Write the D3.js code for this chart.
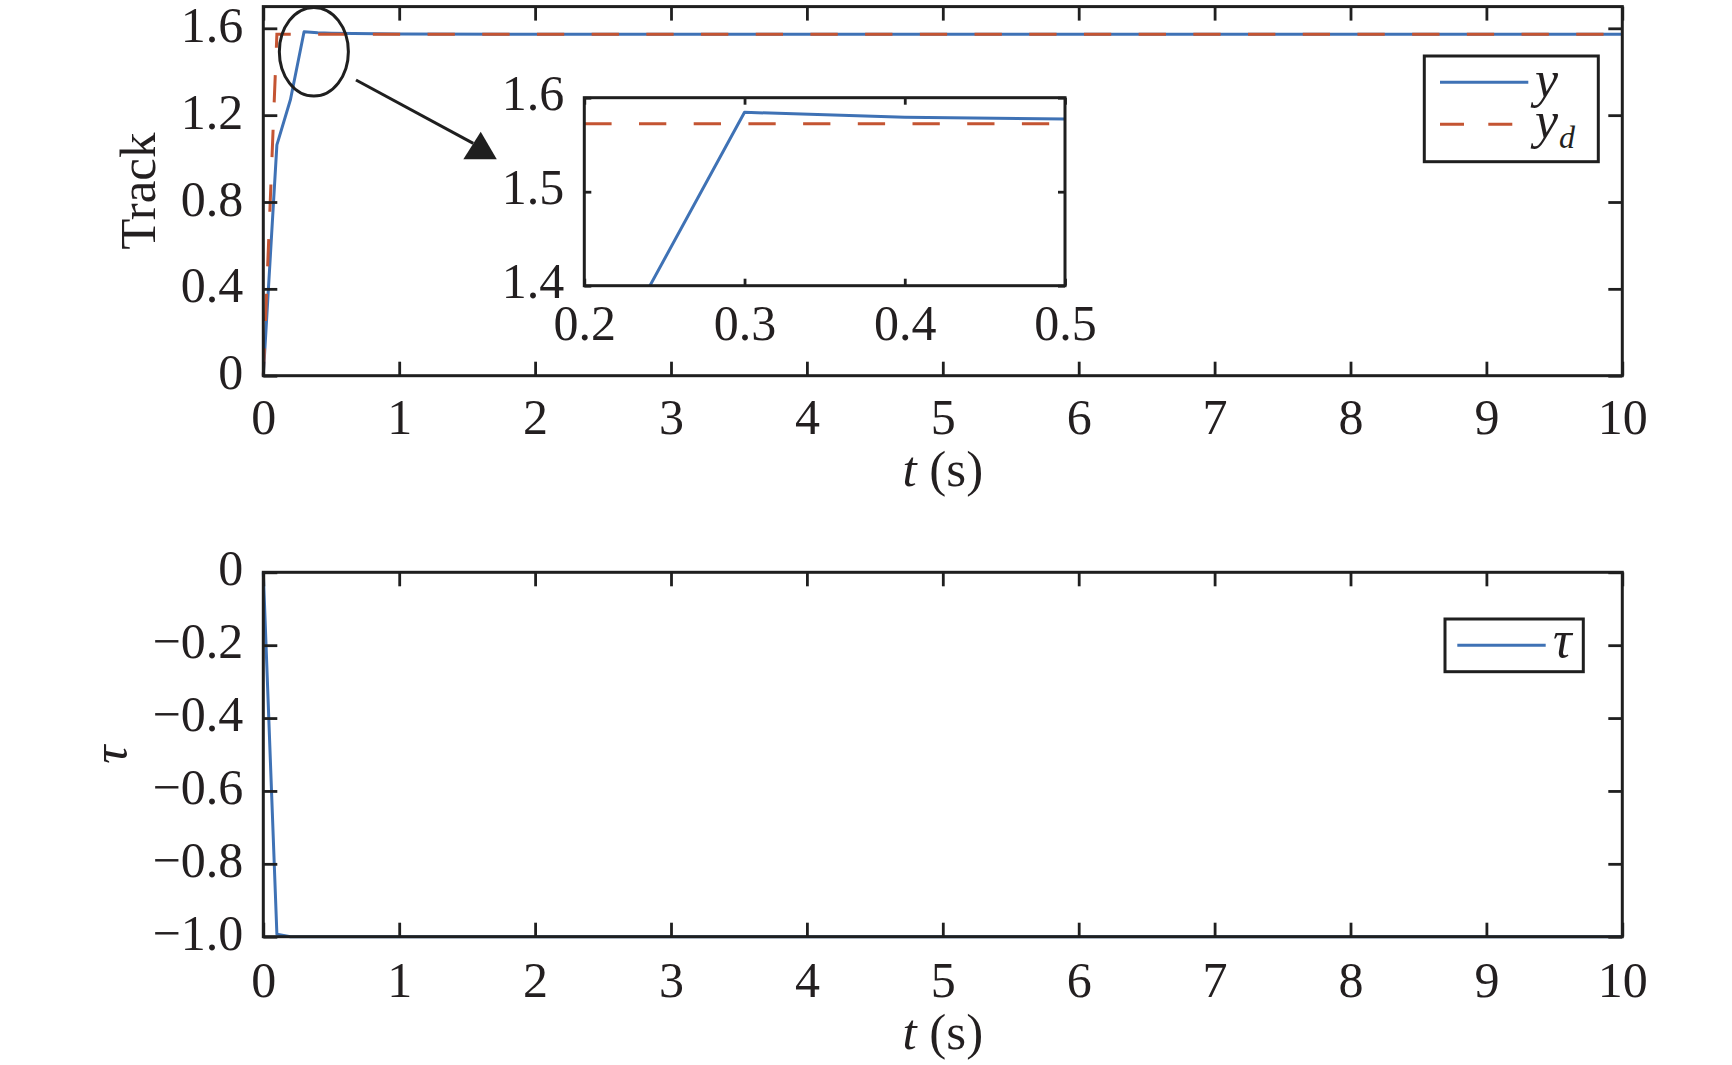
<!DOCTYPE html>
<html>
<head>
<meta charset="utf-8">
<script src="https://cdn.jsdelivr.net/npm/d3@7"></script>
<style>
  html, body { margin: 0; padding: 0; background: #fff; }
  svg { display: block; }
  text { font-family: "Liberation Serif", "Times New Roman", serif; fill: #231f20; }
</style>
</head>
<body>
<svg id="chart" width="1732" height="1065"></svg>
<script>
// ---------------- data ----------------
const tY      = [0, 0.1, 0.2, 0.3, 0.4, 0.5, 1, 2, 10];
const yVals   = [0, 1.063, 1.272, 1.5845, 1.5791, 1.5773, 1.5735, 1.5723, 1.5723];
const tYd     = [0, 0.1, 10];
const ydVals  = [0, 1.5723, 1.5723];
const tTau    = [0, 0.1, 0.2, 10];
const tauVals = [0, -0.993, -1.0, -1.0];

const xTicks       = [0,1,2,3,4,5,6,7,8,9,10];
const xTickLabels  = ["0","1","2","3","4","5","6","7","8","9","10"];
const topYTicks    = [0, 0.4, 0.8, 1.2, 1.6];
const topYLabels   = ["0","0.4","0.8","1.2","1.6"];
const botYTicks    = [0, -0.2, -0.4, -0.6, -0.8, -1.0];
const botYLabels   = ["0","\u22120.2","\u22120.4","\u22120.6","\u22120.8","\u22121.0"];
const insXTicks    = [0.2, 0.3, 0.4, 0.5];
const insXLabels   = ["0.2","0.3","0.4","0.5"];
const insYTicks    = [1.4, 1.5, 1.6];
const insYLabels   = ["1.4","1.5","1.6"];

// annotation (in data units of the top panel)
const ellipseCenter = [0.372, 1.492];
const ellipseRadii  = [0.254, 0.204];
const arrowFrom     = [0.682, 1.362];
const arrowTo       = [1.545, 1.070];
const arrowHead     = [[1.472, 0.997], [1.718, 0.997], [1.600, 1.124]];

// ---------------- style ----------------
const BLUE = "#3f72b5", RED = "#c45432", INK = "#1f1f1f";
const TICK_FONT = 50, LABEL_FONT = 51, LW = 3.0;

const svg = d3.select("#chart");

// ---------------- scales ----------------
const L = 263.3, R = 1622.3;
const x = d3.scaleLinear().domain([0, 10]).range([L, R]);
const yTop = d3.scaleLinear().domain([0, 1.7]).range([375.7, 6.6]);
const yBot = d3.scaleLinear().domain([-1, 0]).range([936.7, 572.3]);
const xIns = d3.scaleLinear().domain([0.2, 0.5]).range([584.3, 1065]);
const yIns = d3.scaleLinear().domain([1.4, 1.6]).range([285.7, 97.7]);

function drawAxes(g, xs, ys, xt, xl, yt, yl, tickLen, xLabOff, yLabBase, fontSize) {
  const [x0, x1] = xs.range();
  const [y0, y1] = ys.range(); // y0 bottom, y1 top
  const ab = g.append("g").attr("transform", `translate(0,${y0})`)
    .call(d3.axisBottom(xs).tickValues(xt).tickSize(-tickLen).tickFormat((d,i)=>xl[i]));
  g.append("g").attr("transform", `translate(0,${y1})`)
    .call(d3.axisTop(xs).tickValues(xt).tickSize(-tickLen).tickFormat(""));
  const al = g.append("g").attr("transform", `translate(${x0},0)`)
    .call(d3.axisLeft(ys).tickValues(yt).tickSize(-tickLen).tickFormat((d,i)=>yl[i]));
  g.append("g").attr("transform", `translate(${x1},0)`)
    .call(d3.axisRight(ys).tickValues(yt).tickSize(-tickLen).tickFormat(""));
  g.selectAll(".domain").remove();
  g.selectAll(".tick line").attr("stroke", INK).attr("stroke-width", 2.8);
  g.selectAll(".tick text").style("font-family", '"Liberation Serif", serif')
    .style("font-size", fontSize + "px").attr("fill", "#231f20");
  ab.selectAll(".tick text").attr("y", xLabOff).attr("dy", null);
  al.selectAll(".tick text").attr("x", -20).attr("dy", null).attr("y", yLabBase).attr("text-anchor", "end");
  g.append("rect").attr("x", x0).attr("y", y1).attr("width", x1 - x0).attr("height", y0 - y1)
    .attr("fill", "none").attr("stroke", INK).attr("stroke-width", 3);
}

// ---------------- top panel ----------------
const gTop = svg.append("g");
const lineTop = d3.line().x(d => x(d[0])).y(d => yTop(d[1]));
gTop.append("path").datum(tY.map((t,i)=>[t, yVals[i]]))
  .attr("d", lineTop).attr("fill","none").attr("stroke", BLUE).attr("stroke-width", LW)
  .attr("stroke-linejoin","round");
gTop.append("path").datum(tYd.map((t,i)=>[t, ydVals[i]]))
  .attr("d", lineTop).attr("fill","none").attr("stroke", RED).attr("stroke-width", LW)
  .attr("stroke-dasharray", "27.3,27.4");
drawAxes(gTop, x, yTop, xTicks, xTickLabels, topYTicks, topYLabels, 14, 58.5, 13, TICK_FONT);

function tsLabel(g, cx, baseline) {
  const t = g.append("text").attr("x", cx).attr("y", baseline).attr("text-anchor","middle")
    .style("font-size", LABEL_FONT + "px");
  t.append("tspan").style("font-style","italic").text("t");
  t.append("tspan").text(" (s)");
}
tsLabel(svg, (L+R)/2, 486);

svg.append("text").attr("transform", `translate(155,${(375.7+6.6)/2}) rotate(-90)`)
  .attr("text-anchor","middle").style("font-size", LABEL_FONT + "px").text("Track");

// legend top
const lgT = svg.append("g");
lgT.append("rect").attr("x",1424.3).attr("y",56).attr("width",174).attr("height",105.7)
  .attr("fill","#fff").attr("stroke",INK).attr("stroke-width",3);
lgT.append("line").attr("x1",1440).attr("x2",1528.3).attr("y1",82.3).attr("y2",82.3)
  .attr("stroke",BLUE).attr("stroke-width",LW);
lgT.append("line").attr("x1",1440).attr("x2",1512.3).attr("y1",124.3).attr("y2",124.3)
  .attr("stroke",RED).attr("stroke-width",LW).attr("stroke-dasharray","24,24.3");
lgT.append("text").attr("x",1535).attr("y",96.5).style("font-size","52px").style("font-style","italic").text("y");
const ydT = lgT.append("text").attr("x",1535).attr("y",138.3).style("font-size","52px").style("font-style","italic");
ydT.append("tspan").text("y");
ydT.append("tspan").attr("dx", 1).attr("dy", 10).style("font-size","32px").text("d");

// annotation ellipse + arrow
svg.append("ellipse")
  .attr("cx", x(ellipseCenter[0])).attr("cy", yTop(ellipseCenter[1]))
  .attr("rx", x(ellipseRadii[0]) - x(0)).attr("ry", yTop(0) - yTop(ellipseRadii[1]))
  .attr("fill","none").attr("stroke",INK).attr("stroke-width",3);
svg.append("line")
  .attr("x1", x(arrowFrom[0])).attr("y1", yTop(arrowFrom[1]))
  .attr("x2", x(arrowTo[0])).attr("y2", yTop(arrowTo[1]))
  .attr("stroke",INK).attr("stroke-width",3);
svg.append("polygon")
  .attr("points", arrowHead.map(p => `${x(p[0])},${yTop(p[1])}`).join(" "))
  .attr("fill",INK);

// ---------------- inset ----------------
const gIns = svg.append("g");
gIns.append("rect").attr("x",584.3).attr("y",97.7).attr("width",480.7).attr("height",188).attr("fill","#fff");
const defs = svg.append("defs");
defs.append("clipPath").attr("id","insClip").append("rect")
  .attr("x",584.3).attr("y",97.7).attr("width",480.7).attr("height",188);
const lineIns = d3.line().x(d => xIns(d[0])).y(d => yIns(d[1]));
const gInsData = gIns.append("g").attr("clip-path","url(#insClip)");
gInsData.append("path").datum(tY.map((t,i)=>[t, yVals[i]]))
  .attr("d", lineIns).attr("fill","none").attr("stroke", BLUE).attr("stroke-width", LW)
  .attr("stroke-linejoin","round");
const ydIns = gInsData.append("path").datum(tYd.map((t,i)=>[t, ydVals[i]]))
  .attr("d", lineIns).attr("fill","none").attr("stroke", RED).attr("stroke-width", LW)
  .attr("stroke-dasharray", "27.3,27.4");
(function(){
  const node = ydIns.node();
  const total = node.getTotalLength();
  let lo = 0, hi = total, target = xIns.range()[0];
  for (let k = 0; k < 60; k++) {
    const mid = (lo + hi) / 2;
    if (node.getPointAtLength(mid).x < target) lo = mid; else hi = mid;
  }
  ydIns.attr("stroke-dashoffset", -lo);
})();
drawAxes(gIns, xIns, yIns, insXTicks, insXLabels, insYTicks, insYLabels, 7, 54, 11.5, TICK_FONT);

// ---------------- bottom panel ----------------
const gBot = svg.append("g");
const lineBot = d3.line().x(d => x(d[0])).y(d => yBot(d[1]));
gBot.append("path").datum(tTau.map((t,i)=>[t, tauVals[i]]))
  .attr("d", lineBot).attr("fill","none").attr("stroke", BLUE).attr("stroke-width", LW)
  .attr("stroke-linejoin","round");
drawAxes(gBot, x, yBot, xTicks, xTickLabels, botYTicks, botYLabels, 14, 60, 12.5, TICK_FONT);
tsLabel(svg, (L+R)/2, 1049);

svg.append("text").attr("transform", `translate(127,${(936.7+572.3)/2}) rotate(-90)`)
  .attr("text-anchor","middle").style("font-size", LABEL_FONT + "px").style("font-style","italic").text("\u03c4");

// legend bottom
const lgB = svg.append("g");
lgB.append("rect").attr("x",1445).attr("y",619).attr("width",138.3).attr("height",52.7)
  .attr("fill","#fff").attr("stroke",INK).attr("stroke-width",3);
lgB.append("line").attr("x1",1457.3).attr("x2",1545.7).attr("y1",645.3).attr("y2",645.3)
  .attr("stroke",BLUE).attr("stroke-width",LW);
lgB.append("text").attr("x",1553).attr("y",657.3).style("font-size","52px").style("font-style","italic").text("\u03c4");
</script>
</body>
</html>
